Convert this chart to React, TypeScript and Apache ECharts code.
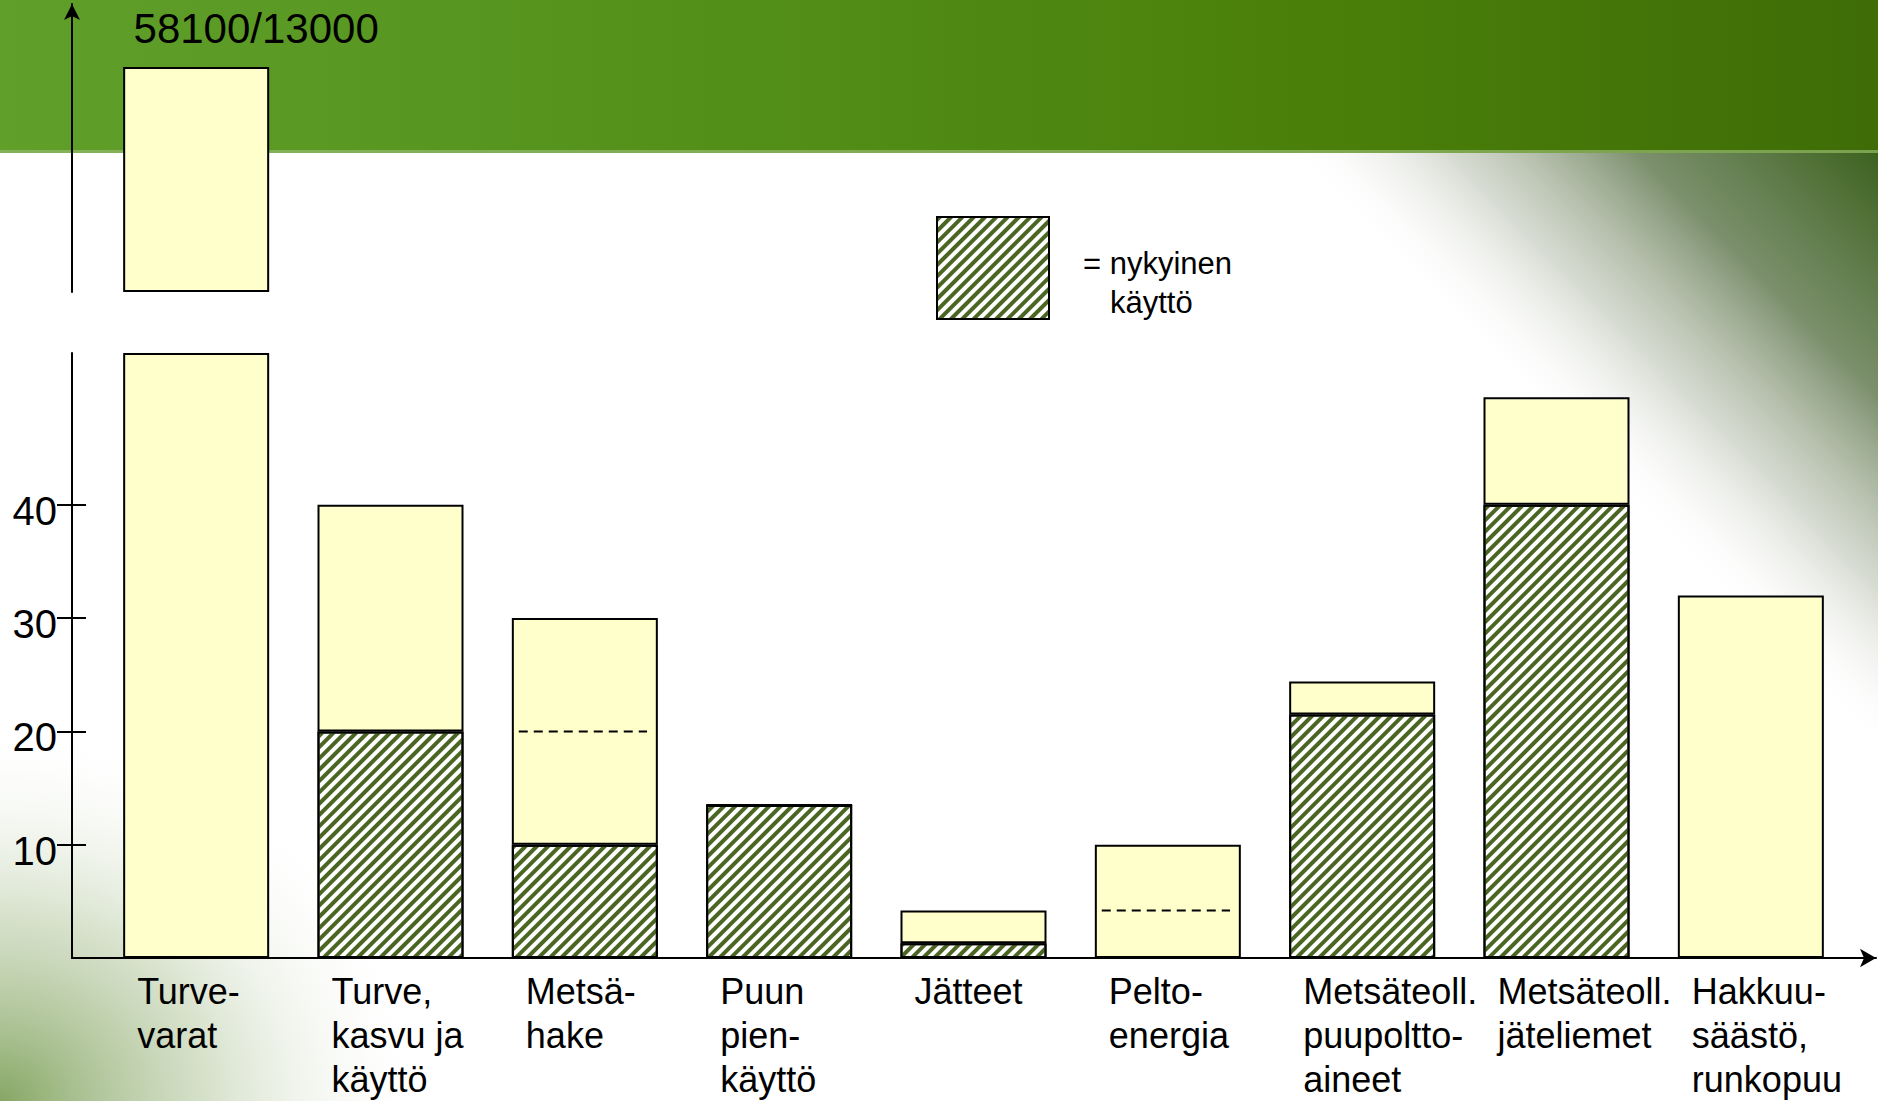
import React, { useEffect, useRef } from 'react';
import * as echarts from 'echarts';

// Energy sources (categories) with their total potential and current use.
const categories = [
  'Turve-\nvarat',
  'Turve,\nkasvu ja\nkäyttö',
  'Metsä-\nhake',
  'Puun\npien-\nkäyttö',
  'Jätteet',
  'Pelto-\nenergia',
  'Metsäteoll.\npuupoltto-\naineet',
  'Metsäteoll.\njäteliemet',
  'Hakkuu-\nsäästö,\nrunkopuu',
];
const totalValues = [58100, 40, 30, 13.5, 4.2, 10, 24.4, 49.5, 32];
const currentUse = [0, 20, 10, 13.5, 1.3, 0, 21.5, 40, 0];
// Dashed level marks drawn inside some bars
const dashedMarks = [null, null, 20, null, null, 4.2, null, null, null];
// Peat reserves shown above the broken axis
const turveVarat = [58100, 13000];
const yTicks = [10, 20, 30, 40];

const LOWER_MAX = 53.4;
const UPPER_MAX = 74400;
const BAR_W = 146;
// half a bar, in category units of the 194.3 px wide bands
const HALF_BAR = 0.36;

const FONT = "'Liberation Sans', Arial, Helvetica, sans-serif";

const hatch = {
  symbol: 'rect',
  symbolSize: 1,
  color: '#4a6622',
  dashArrayX: [1, 0],
  dashArrayY: [4, 4],
  rotation: -Math.PI / 4,
};

const barBorder = { borderColor: '#000', borderWidth: 2 };

function buildOption() {
  const remainder = totalValues.map((t, i) => +(Math.min(t, LOWER_MAX) - currentUse[i]).toFixed(2));
  const upper = totalValues.map((t) => (t > LOWER_MAX ? t : '-'));

  const markSeries = dashedMarks
    .map((v, i) => (v == null ? null : { i, v }))
    .filter((d): d is { i: number; v: number } => d !== null)
    .map(({ i, v }) => ({
      name: 'taso',
      type: 'line',
      xAxisIndex: 3,
      yAxisIndex: 0,
      z: 5,
      symbol: 'none',
      silent: true,
      data: [
        [i - HALF_BAR + 0.02, v],
        [i + HALF_BAR - 0.04, v],
      ],
      lineStyle: { color: '#000', width: 2, type: [9, 6] },
    }));

  const bg = [
    {
      type: 'rect',
      z: -10,
      silent: true,
      shape: { x: 0, y: 0, width: 1878, height: 153 },
      style: {
        fill: new echarts.graphic.LinearGradient(0, 0, 1, 0, [
          { offset: 0, color: '#60a02a' },
          { offset: 0.35, color: '#53911b' },
          { offset: 0.7, color: '#4a800a' },
          { offset: 1, color: '#3f6c07' },
        ]),
      },
    },
    {
      type: 'rect',
      z: -9,
      silent: true,
      shape: { x: 0, y: 150, width: 1878, height: 3 },
      style: { fill: 'rgba(150,185,110,0.7)' },
    },
    {
      type: 'polygon',
      z: -9,
      silent: true,
      shape: { points: [[1280, 153], [1878, 153], [1878, 760]] },
      style: {
        fill: new echarts.graphic.LinearGradient(
          1878, 153, 1575, 452,
          [
            { offset: 0, color: 'rgba(60,98,30,1)' },
            { offset: 0.4, color: 'rgba(105,128,88,0.88)' },
            { offset: 0.72, color: 'rgba(175,184,165,0.5)' },
            { offset: 1, color: 'rgba(255,255,255,0)' },
          ],
          true
        ),
      },
    },
    {
      type: 'ellipse',
      z: -9,
      silent: true,
      shape: { cx: 0, cy: 1101, rx: 430, ry: 380 },
      style: {
        fill: new echarts.graphic.RadialGradient(0.5, 0.5, 0.5, [
          { offset: 0, color: 'rgba(128,162,92,0.95)' },
          { offset: 0.5, color: 'rgba(178,198,156,0.5)' },
          { offset: 1, color: 'rgba(255,255,255,0)' },
        ]),
      },
    },
  ];

  return {
    animation: false,
    backgroundColor: '#ffffff',
    textStyle: { fontFamily: FONT },
    graphic: bg,
    legend: {
      show: true,
      data: ['nykyinen käyttö'],
      left: 931,
      top: 211,
      itemWidth: 112,
      itemHeight: 102,
      icon: 'rect',
      selectedMode: false,
      formatter: () => '{a|= nykyinen}\n{b|käyttö}',
      textStyle: {
        padding: [30, 0, 0, 0],
        rich: {
          a: { fontSize: 31, lineHeight: 39, color: '#000', fontFamily: FONT, padding: [0, 0, 0, 29] },
          b: { fontSize: 31, lineHeight: 39, color: '#000', fontFamily: FONT, padding: [0, 0, 0, 56] },
        },
      },
    },
    grid: [
      { left: 99, right: 30, top: 353, bottom: 143 },
      { left: 72, right: 2, top: 353, bottom: 143 },
      { left: 99, right: 30, top: 4, bottom: 809 },
    ],
    xAxis: [
      {
        type: 'category',
        gridIndex: 0,
        data: categories,
        axisLine: { show: false },
        axisTick: { show: false },
        axisLabel: {
          interval: 0,
          hideOverlap: false,
          align: 'center',
          verticalAlign: 'top',
          margin: 11,
          formatter: (v: string) => v.split('\n').map((l) => `{l|${l}}`).join('\n'),
          rich: {
            l: { width: 118, align: 'left', fontSize: 36, lineHeight: 44, color: '#000', fontFamily: FONT },
          },
        },
      },
      {
        type: 'value',
        gridIndex: 1,
        min: 0,
        max: 1,
        axisLine: {
          show: true,
          onZero: false,
          symbol: ['none', 'arrow'],
          symbolSize: [14, 16],
          lineStyle: { color: '#000', width: 2 },
        },
        axisTick: { show: false },
        axisLabel: { show: false },
        splitLine: { show: false },
      },
      { type: 'category', gridIndex: 2, data: categories, show: false },
      // value twin of the category axis, used for the dashed level marks
      { type: 'value', gridIndex: 0, min: -0.5, max: categories.length - 0.5, show: false },
    ],
    yAxis: [
      { type: 'value', gridIndex: 0, min: 0, max: LOWER_MAX, show: false },
      {
        type: 'value',
        gridIndex: 1,
        position: 'left',
        min: 0,
        max: LOWER_MAX,
        axisLine: { show: true, onZero: false, lineStyle: { color: '#000', width: 2 } },
        axisTick: { show: true, inside: false, length: 15, customValues: yTicks, lineStyle: { color: '#000', width: 2 } },
        axisLabel: {
          show: true,
          customValues: yTicks,
          fontSize: 40,
          color: '#000',
          fontFamily: FONT,
          margin: 15,
          verticalAlign: 'top',
          lineHeight: 12,
        },
        splitLine: { show: false },
      },
      {
        type: 'value',
        gridIndex: 1,
        position: 'left',
        min: 0,
        max: LOWER_MAX,
        axisLine: { show: false },
        axisTick: { show: true, inside: true, length: 14, customValues: yTicks, lineStyle: { color: '#000', width: 2 } },
        axisLabel: { show: false },
        splitLine: { show: false },
      },
      {
        type: 'value',
        gridIndex: 2,
        position: 'left',
        offset: 27,
        min: 0,
        max: UPPER_MAX,
        axisLine: {
          show: true,
          onZero: false,
          symbol: ['none', 'arrow'],
          symbolSize: [12, 16],
          lineStyle: { color: '#000', width: 2 },
        },
        axisTick: { show: false },
        axisLabel: { show: false },
        splitLine: { show: false },
      },
    ],
    series: [
      {
        name: 'nykyinen käyttö',
        type: 'bar',
        xAxisIndex: 0,
        yAxisIndex: 0,
        stack: 'lower',
        barWidth: BAR_W,
        clip: false,
        data: currentUse,
        itemStyle: { color: '#ffffff', ...barBorder, decal: hatch },
      },
      {
        name: 'potentiaali',
        type: 'bar',
        xAxisIndex: 0,
        yAxisIndex: 0,
        stack: 'lower',
        barWidth: BAR_W,
        clip: false,
        data: remainder,
        itemStyle: { color: '#ffffcc', ...barBorder },
      },
      {
        name: 'turvevarat',
        type: 'bar',
        xAxisIndex: 2,
        yAxisIndex: 3,
        barWidth: BAR_W,
        clip: false,
        data: upper,
        itemStyle: { color: '#ffffcc', ...barBorder },
        label: {
          show: true,
          position: 'top',
          formatter: turveVarat.join('/'),
          fontSize: 42,
          fontFamily: FONT,
          color: '#000',
          offset: [60, -13],
        },
      },
      ...markSeries,
    ],
  };
}

export default function App() {
  const ref = useRef<HTMLDivElement>(null);
  useEffect(() => {
    if (!ref.current) return;
    const chart = echarts.init(ref.current, null, { renderer: 'svg' });
    chart.setOption(buildOption() as any);
    return () => chart.dispose();
  }, []);
  return (
    <div
      ref={ref}
      style={{ position: 'absolute', left: 0, top: 0, width: 1878, height: 1101, overflow: 'hidden' }}
    />
  );
}
